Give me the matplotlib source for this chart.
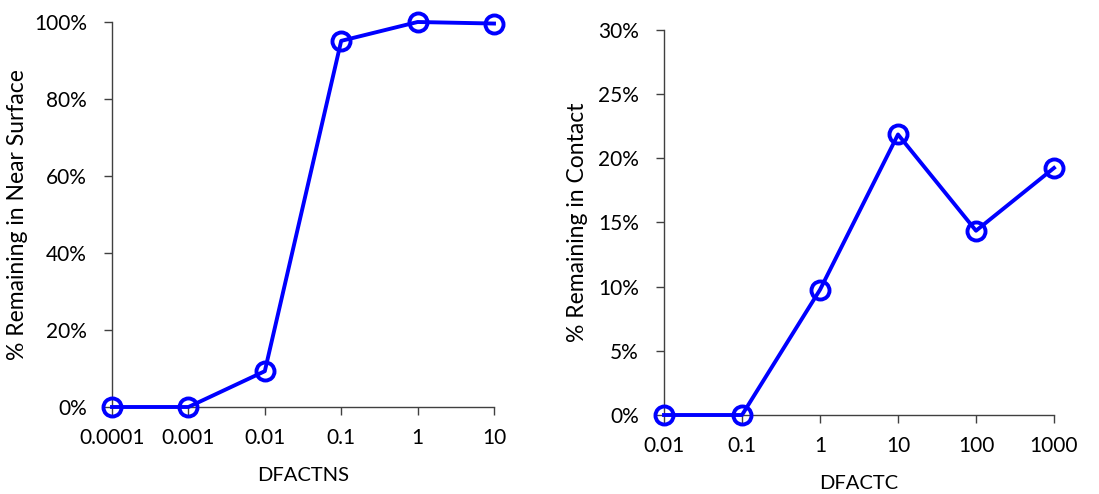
import matplotlib.pyplot as plt
from matplotlib.ticker import FixedLocator, FixedFormatter, NullLocator, PercentFormatter

plt.rcParams['font.family'] = ['Lato', 'DejaVu Sans']

# left panel
dfactns = [0.0001, 0.001, 0.01, 0.1, 1, 10]
dfactns_labels = ['0.0001', '0.001', '0.01', '0.1', '1', '10']
near_surface = [0.0, 0.0, 9.3, 95.1, 100.0, 99.6]

# right panel
dfactc = [0.01, 0.1, 1, 10, 100, 1000]
dfactc_labels = ['0.01', '0.1', '1', '10', '100', '1000']
contact = [0.0, 0.0, 9.76, 21.86, 14.36, 19.25]

blue = '#0000FF'
W, H = 1099, 494
fig = plt.figure(figsize=(W / 100, H / 100), dpi=100)

ax1 = fig.add_axes([112 / W, 1 - 407 / H, (494 - 112) / W, (407 - 22) / H])
ax2 = fig.add_axes([664 / W, 1 - 415 / H, (1054 - 664) / W, (415 - 30) / H])


def style(ax, x, y, labels, ymax, ystep, xlabel, ylabel, ypad):
    ax.plot(x, y, '-o', color=blue, lw=2.8, ms=13, mfc='none', mec=blue, mew=2.8,
            clip_on=False, zorder=3)
    ax.set_xscale('log')
    ax.set_xlim(x[0], x[-1])
    ax.set_ylim(0, ymax)
    ax.xaxis.set_major_locator(FixedLocator(x))
    ax.xaxis.set_major_formatter(FixedFormatter(labels))
    ax.xaxis.set_minor_locator(NullLocator())
    ax.set_yticks(range(0, ymax + 1, ystep))
    ax.yaxis.set_major_formatter(PercentFormatter(decimals=0))
    for s in ['top', 'right']:
        ax.spines[s].set_visible(False)
    for s in ['left', 'bottom']:
        ax.spines[s].set_color('#404040')
        ax.spines[s].set_linewidth(1.0)
    ax.tick_params(axis='both', direction='out', length=6, width=1.0, color='#404040',
                   labelsize=15, labelcolor='black')
    ax.tick_params(axis='x', pad=9)
    ax.tick_params(axis='y', pad=12)
    ax.set_xlabel(xlabel, fontsize=14.5, labelpad=14)
    ax.set_ylabel(ylabel, fontsize=16.5, labelpad=ypad)


style(ax1, dfactns, near_surface, dfactns_labels, 100, 20, 'DFACTNS',
      '% Remaining in Near Surface', 4)
style(ax2, dfactc, contact, dfactc_labels, 30, 5, 'DFACTC',
      '% Remaining in Contact', 7)

fig.savefig('out.png', dpi=100)
